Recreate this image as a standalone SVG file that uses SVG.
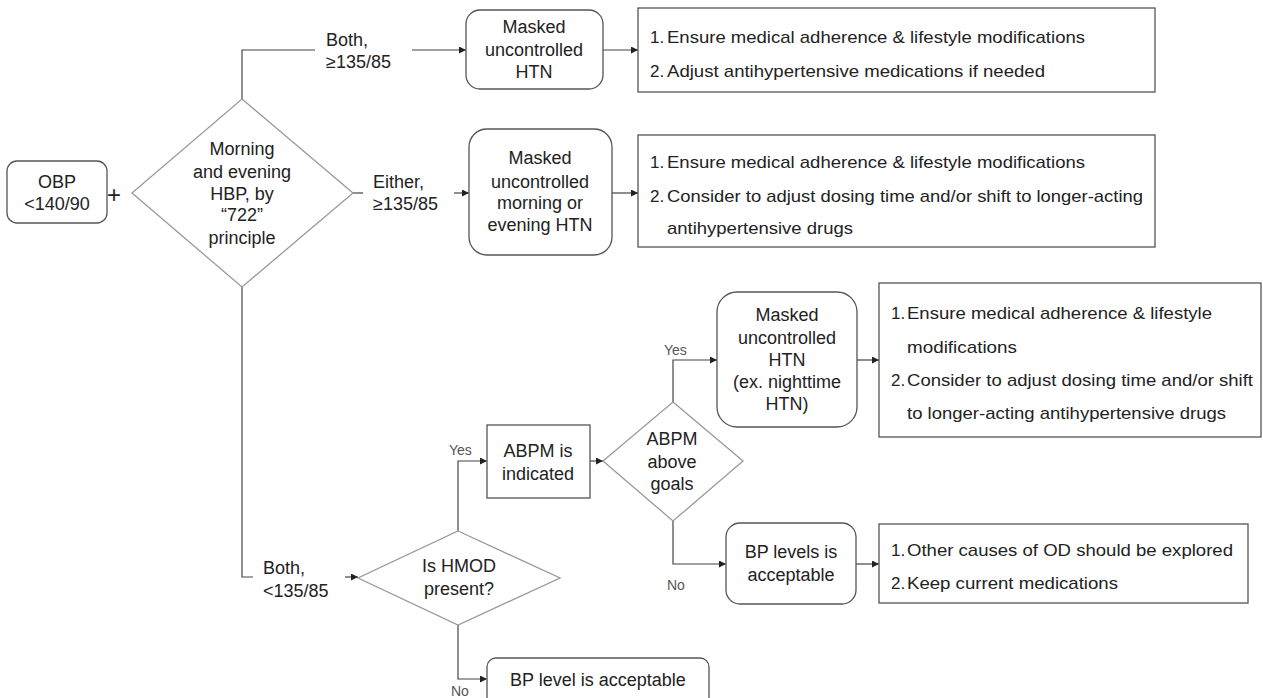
<svg xmlns="http://www.w3.org/2000/svg" width="1263" height="698" viewBox="0 0 1263 698">
<style>
text{font-family:"Liberation Sans",Arial,sans-serif;fill:#222;}
.n{font-size:18px;text-anchor:middle;}
.a{font-size:17px;}
.lb{font-size:18px;}
.yn{font-size:14px;fill:#555;}
.box{fill:#fff;stroke:#555;stroke-width:1.3;}
.dia{fill:#fff;stroke:#999;stroke-width:1.3;}
.c{fill:none;stroke:#444;stroke-width:1.2;}
</style>
<defs>
<marker id="ar" viewBox="0 0 10 10" refX="10" refY="5" markerWidth="7" markerHeight="7" markerUnits="userSpaceOnUse" orient="auto">
<path d="M0,0 L10,5 L0,10 z" fill="#222"/>
</marker>
</defs>
<rect width="1263" height="698" fill="#fff"/>
<g id="connectors">
<path class="c" d="M242,99 V50 H315"/>
<path class="c" d="M412,50 H466" marker-end="url(#ar)"/>
<path class="c" d="M603,50 H638" marker-end="url(#ar)"/>
<path class="c" d="M353,193 H363"/>
<path class="c" d="M454,193 H469" marker-end="url(#ar)"/>
<path class="c" d="M612,193 H638" marker-end="url(#ar)"/>
<path class="c" d="M242,287 V577 H253"/>
<path class="c" d="M345,577 H358" marker-end="url(#ar)"/>
<path class="c" d="M458,531 V461 H487" marker-end="url(#ar)"/>
<path class="c" d="M590,461 H603" marker-end="url(#ar)"/>
<path class="c" d="M673,402 V360 H717" marker-end="url(#ar)"/>
<path class="c" d="M673,521 V564 H726" marker-end="url(#ar)"/>
<path class="c" d="M857,360 H879" marker-end="url(#ar)"/>
<path class="c" d="M856,564 H879" marker-end="url(#ar)"/>
<path class="c" d="M458,625 V679 H487" marker-end="url(#ar)"/>
<text class="lb" x="326" y="46">Both,</text>
<text class="lb" x="326" y="68">≥135/85</text>
<text class="lb" x="373" y="188">Either,</text>
<text class="lb" x="373" y="210">≥135/85</text>
<text class="lb" x="263" y="574">Both,</text>
<text class="lb" x="263" y="597">&lt;135/85</text>
<text class="yn" x="449" y="455">Yes</text>
<text class="yn" x="664" y="355">Yes</text>
<text class="yn" x="667" y="590">No</text>
<text class="yn" x="451" y="696">No</text>
</g>
<g id="obp">
<rect class="box" x="7" y="161" width="100" height="62" rx="10"/>
<text class="n" x="57" y="188">OBP</text>
<text class="n" x="57" y="210">&lt;140/90</text>
</g>
<g id="plus"><text x="107" y="203" style="font-size:24px">+</text></g>
<g id="d1">
<polygon class="dia" points="242,99 353,193 242,287 132,193"/>
<text class="n" x="242" y="155">Morning</text>
<text class="n" x="242" y="178">and evening</text>
<text class="n" x="242" y="200">HBP, by</text>
<text class="n" x="242" y="221">“722”</text>
<text class="n" x="242" y="244">principle</text>
</g>
<g id="m1">
<rect class="box" x="466" y="10" width="137" height="79" rx="14"/>
<text class="n" x="534" y="33">Masked</text>
<text class="n" x="534" y="56">uncontrolled</text>
<text class="n" x="534" y="78">HTN</text>
</g>
<g id="act1">
<rect class="box" x="638" y="8" width="517" height="84"/>
<text class="a" x="650" y="43">1.</text>
<text class="a" x="667" y="43" textLength="418" lengthAdjust="spacingAndGlyphs">Ensure medical adherence &amp; lifestyle modifications</text>
<text class="a" x="650" y="77">2.</text>
<text class="a" x="667" y="77" textLength="378" lengthAdjust="spacingAndGlyphs">Adjust antihypertensive medications if needed</text>
</g>
<g id="m2">
<rect class="box" x="469" y="129" width="143" height="126" rx="18"/>
<text class="n" x="540" y="164">Masked</text>
<text class="n" x="540" y="188">uncontrolled</text>
<text class="n" x="540" y="209">morning or</text>
<text class="n" x="540" y="231">evening HTN</text>
</g>
<g id="act2">
<rect class="box" x="638" y="135" width="517" height="112"/>
<text class="a" x="650" y="168">1.</text>
<text class="a" x="667" y="168" textLength="418" lengthAdjust="spacingAndGlyphs">Ensure medical adherence &amp; lifestyle modifications</text>
<text class="a" x="650" y="202">2.</text>
<text class="a" x="667" y="202" textLength="476" lengthAdjust="spacingAndGlyphs">Consider to adjust dosing time and/or shift to longer-acting</text>
<text class="a" x="667" y="234" textLength="186" lengthAdjust="spacingAndGlyphs">antihypertensive drugs</text>
</g>
<g id="hmod">
<polygon class="dia" points="458,531 560,578 458,625 358,578"/>
<text class="n" x="459" y="572">Is HMOD</text>
<text class="n" x="459" y="595">present?</text>
</g>
<g id="abpm-ind">
<rect class="box" x="487" y="425" width="103" height="73"/>
<text class="n" x="538" y="457">ABPM is</text>
<text class="n" x="538" y="480">indicated</text>
</g>
<g id="abpm-goal">
<polygon class="dia" points="673,402 743,461 673,521 603,461"/>
<text class="n" x="672" y="445">ABPM</text>
<text class="n" x="672" y="468">above</text>
<text class="n" x="672" y="490">goals</text>
</g>
<g id="m3">
<rect class="box" x="717" y="292" width="140" height="135" rx="20"/>
<text class="n" x="787" y="321">Masked</text>
<text class="n" x="787" y="344">uncontrolled</text>
<text class="n" x="787" y="366">HTN</text>
<text class="n" x="787" y="388">(ex. nighttime</text>
<text class="n" x="787" y="410">HTN)</text>
</g>
<g id="act3">
<rect class="box" x="879" y="283" width="382" height="154"/>
<text class="a" x="891" y="319">1.</text>
<text class="a" x="907" y="319" textLength="305" lengthAdjust="spacingAndGlyphs">Ensure medical adherence &amp; lifestyle</text>
<text class="a" x="907" y="353" textLength="110" lengthAdjust="spacingAndGlyphs">modifications</text>
<text class="a" x="891" y="386">2.</text>
<text class="a" x="907" y="386" textLength="346" lengthAdjust="spacingAndGlyphs">Consider to adjust dosing time and/or shift</text>
<text class="a" x="907" y="419" textLength="319" lengthAdjust="spacingAndGlyphs">to longer-acting antihypertensive drugs</text>
</g>
<g id="bp-levels">
<rect class="box" x="726" y="523" width="130" height="81" rx="14"/>
<text class="n" x="791" y="558">BP levels is</text>
<text class="n" x="791" y="581">acceptable</text>
</g>
<g id="act4">
<rect class="box" x="879" y="524" width="369" height="79"/>
<text class="a" x="891" y="556">1.</text>
<text class="a" x="907" y="556" textLength="326" lengthAdjust="spacingAndGlyphs">Other causes of OD should be explored</text>
<text class="a" x="891" y="589">2.</text>
<text class="a" x="907" y="589" textLength="211" lengthAdjust="spacingAndGlyphs">Keep current medications</text>
</g>
<g id="bp-level">
<rect class="box" x="487" y="658" width="222" height="50" rx="9"/>
<text class="n" x="598" y="686">BP level is acceptable</text>
</g>
</svg>
